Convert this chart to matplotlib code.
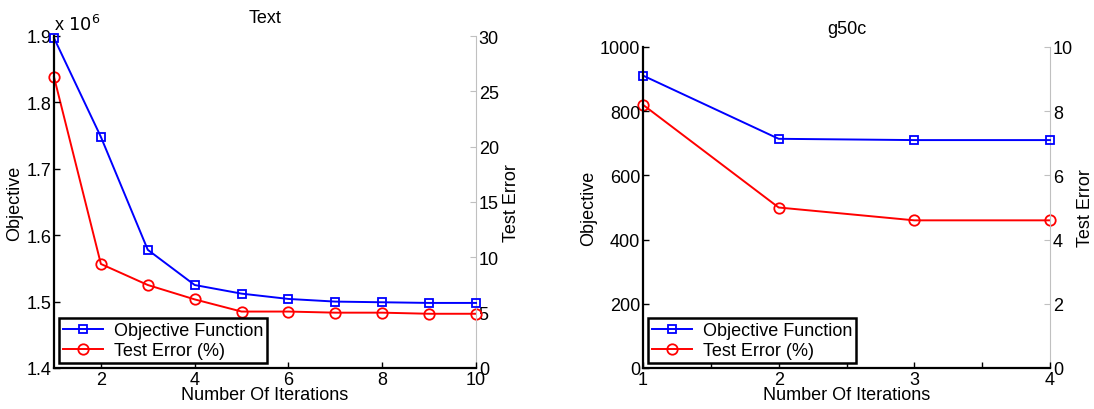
import numpy as np
import matplotlib
matplotlib.use('Agg')
import matplotlib.pyplot as plt
from matplotlib.ticker import MultipleLocator

plt.rcParams['font.family'] = ['Liberation Sans', 'DejaVu Sans']
plt.rcParams['font.size'] = 13

# Text dataset
text_iters = [1, 2, 3, 4, 5, 6, 7, 8, 9, 10]
text_objective = [1.897, 1.748, 1.578, 1.525, 1.512, 1.504, 1.500, 1.499, 1.498, 1.498]  # x 10^6
text_error = [26.3, 9.4, 7.5, 6.2, 5.1, 5.1, 5.0, 5.0, 4.9, 4.9]

# g50c dataset
g50c_iters = [1, 2, 3, 4]
g50c_objective = [911, 714, 710, 710]
g50c_error = [8.2, 5.0, 4.6, 4.6]

W, H = 1094, 410
GRAY = '#c0c0c0'


def style_axes(ax, ax2):
    for s in ['top', 'right']:
        ax.spines[s].set_visible(False)
    for s in ['left', 'bottom']:
        ax.spines[s].set_linewidth(1.6)
    for s in ['top', 'left', 'bottom']:
        ax2.spines[s].set_visible(False)
    ax2.spines['right'].set_color(GRAY)
    ax2.spines['right'].set_linewidth(0.8)
    ax.tick_params(direction='in', length=4, width=1, pad=2, labelsize=13)
    ax.tick_params(which='minor', direction='in', length=4, width=1)
    ax2.tick_params(direction='in', length=4, width=0.8, color=GRAY, pad=2, labelsize=13)
    ax.set_zorder(ax2.get_zorder() + 1)
    ax.patch.set_visible(False)


def plot_panel(rect, iters, obj, err, title):
    ax = fig.add_axes(rect)
    ax2 = ax.twinx()
    l1, = ax.plot(iters, obj, color='blue', marker='s', markersize=6,
                  markerfacecolor='none', markeredgewidth=1.3, linewidth=1.4,
                  clip_on=False, label='Objective Function')
    l2, = ax2.plot(iters, err, color='red', marker='o', markersize=7.5,
                   markerfacecolor='none', markeredgewidth=1.3, linewidth=1.4,
                   clip_on=False, label='Test Error (%)')
    ax.set_ylabel('Objective', labelpad=2)
    ax2.set_ylabel('Test Error', labelpad=3)
    ax.set_xlabel('Number Of Iterations', labelpad=-1)
    ax.set_title(title, fontsize=13, pad=10)
    style_axes(ax, ax2)
    leg = ax.legend([l1, l2], ['Objective Function', 'Test Error (%)'],
                    loc='lower left', fancybox=False, framealpha=1,
                    borderaxespad=0.25, handlelength=2.2, handletextpad=0.6,
                    fontsize=13, borderpad=0.25, labelspacing=0.15)
    leg.get_frame().set_edgecolor('black')
    leg.get_frame().set_linewidth(1.8)
    return ax, ax2


fig = plt.figure(figsize=(W / 100, H / 100), dpi=100)

ax, ax2 = plot_panel([54 / W, 41 / H, 422 / W, 332 / H],
                     text_iters, text_objective, text_error, 'Text')
ax.set_xlim(1, 10)
ax.set_xticks([2, 4, 6, 8, 10])
ax.set_ylim(1.4, 1.9)
ax.set_yticks(np.arange(1.4, 1.95, 0.1))
ax.set_yticklabels(['1.4', '1.5', '1.6', '1.7', '1.8', '1.9'])
ax2.set_ylim(0, 30)
ax2.set_yticks(range(0, 31, 5))
ax.text(0.0, 1.005, r'x $10^6$', transform=ax.transAxes, fontsize=13,
        ha='left', va='bottom')

ax, ax2 = plot_panel([643 / W, 41 / H, 407 / W, 321 / H],
                     g50c_iters, g50c_objective, g50c_error, 'g50c')
ax.set_xlim(1, 4)
ax.set_xticks([1, 2, 3, 4])
ax.xaxis.set_minor_locator(MultipleLocator(0.5))
ax.set_ylim(0, 1000)
ax.set_yticks(range(0, 1001, 200))
ax2.set_ylim(0, 10)
ax2.set_yticks(range(0, 11, 2))

fig.savefig('out.png', dpi=100)
